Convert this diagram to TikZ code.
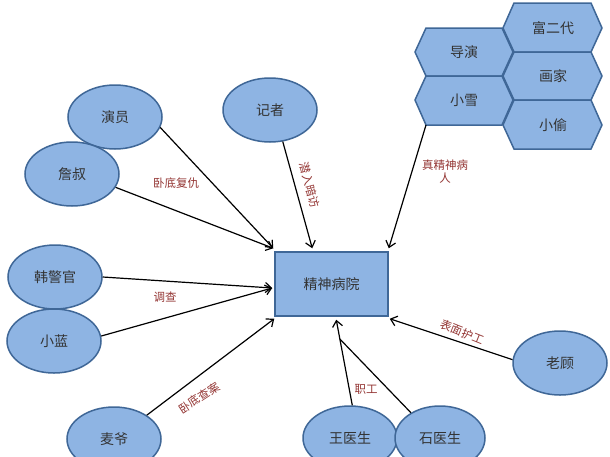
\documentclass[tikz,border=0pt]{standalone}
\usepackage{fontspec}
\setmainfont{Liberation Serif}
\newfontfamily\cjk{Noto Sans CJK SC}
\usetikzlibrary{shapes.geometric,arrows.meta,calc}
\definecolor{shapefill}{HTML}{8EB4E3}
\definecolor{shapeline}{HTML}{3F6797}
\definecolor{labelred}{HTML}{943634}
\begin{document}
\begin{tikzpicture}[x=1pt,y=-1pt,
  oval/.style={ellipse,draw=shapeline,fill=shapefill,line width=1.5pt,minimum width=94pt,minimum height=64pt,inner sep=0pt,font=\cjk\fontsize{14}{16}\selectfont,text=black!80},
  hexshape/.style={draw=shapeline,fill=shapefill,line width=1.5pt,line join=miter},
  hextext/.style={font=\cjk\fontsize{14}{16}\selectfont,text=black!80,inner sep=0pt},
  boxnode/.style={rectangle,draw=shapeline,fill=shapefill,line width=1.5pt,minimum width=113pt,minimum height=64pt,inner sep=0pt,font=\cjk\fontsize{14}{16}\selectfont,text=black!80},
  conn/.style={draw=black,line width=1.2pt,-{Straight Barb[length=6pt,width=10pt]}},
  plainconn/.style={draw=black,line width=1.2pt},
  rel/.style={font=\cjk\fontsize{11.5}{13}\selectfont,text=labelred,inner sep=1pt,align=center}]
\useasboundingbox (0,0) rectangle (610,456);
\fill[white] (0,0) rectangle (610,456);

% hexagons
\draw[hexshape] (415,52)--(426,28)--(502,28)--(513,52)--(502,76)--(426,76)--cycle;
\draw[hexshape] (415,100)--(426,76)--(502,76)--(513,100)--(502,125)--(426,125)--cycle;
\draw[hexshape] (503,28)--(514,3)--(591,3)--(602,28)--(591,52)--(514,52)--cycle;
\draw[hexshape] (503,76)--(514,52)--(591,52)--(602,76)--(591,100)--(514,100)--cycle;
\draw[hexshape] (503,125)--(514,100)--(591,100)--(602,125)--(591,149)--(514,149)--cycle;
\node[hextext] (daoyan) at (464,52) {导演};
\node[hextext] (xiaoxue) at (464,100) {小雪};
\node[hextext] (fuerdai) at (553,28) {富二代};
\node[hextext] (huajia) at (553,76) {画家};
\node[hextext] (xiaotou) at (553,125) {小偷};
\coordinate (xxcorner) at (426,125);

% ellipses
\node[oval] (yanyuan) at (115,117) {演员};
\node[oval] (zhanshu) at (72,174) {詹叔};
\node[oval] (jizhe) at (270,110) {记者};
\node[oval] (hanjg) at (55,277) {韩警官};
\node[oval] (xiaolan) at (54,341) {小蓝};
\node[oval] (maiye) at (114,439) {麦爷};
\node[oval] (wang) at (350,438) {王医生};
\node[oval,minimum width=90pt] (shi) at (440,438) {石医生};
\node[oval] (laogu) at (560,363) {老顾};

% center box
\node[boxnode] (hosp) at (331.5,284) {精神病院};

\coordinate (tNW) at ($(hosp.north west)+(-1,-3)$);
\coordinate (tN) at ($(hosp.north west)+(38,-3)$);
\coordinate (tNE) at ($(hosp.north east)+(0,-3)$);
\coordinate (tW) at ($(hosp.west)+(-2,4)$);
\coordinate (tSW) at ($(hosp.south west)+(0,2)$);
\coordinate (tS) at ($(hosp.south west)+(62,3)$);
\coordinate (tSE) at ($(hosp.south east)+(1,2)$);

% connectors
\draw[conn] (yanyuan.-13) -- (tNW);
\draw[conn] (zhanshu.-17) -- (tNW);
\draw[conn] (jizhe.-68) -- (tN);
\draw[conn] (xxcorner) -- (tNE);
\draw[conn] (hanjg.0) -- (tW);
\draw[conn] (xiaolan.6) -- (tW);
\draw[conn] (maiye.36) -- (tSW);
\draw[conn] (wang.86) -- (tS);
\coordinate (jn) at ($(wang.86)!0.775!(tS)$);
\draw[plainconn] (shi.139) -- (jn);
\draw[conn] (laogu.176) -- (tSE);

% labels
\node[rel] (l1) at (176,183) {卧底复仇};
\node[rel,rotate=-75] (l2) at (310,185) {潜入暗访};
\node[rel] (l3) at (445,172) {真精神病\\人};
\node[rel] (l4) at (165,297) {调查};
\node[rel,rotate=33] (l5) at (199,398) {卧底查案};
\node[rel] (l6) at (366,389) {职工};
\node[rel,rotate=-22] (l7) at (462,332) {表面护工};
\end{tikzpicture}
\end{document}
